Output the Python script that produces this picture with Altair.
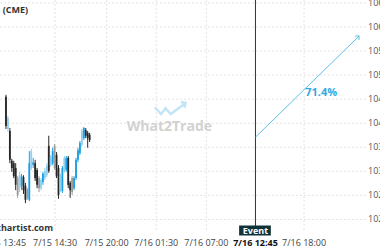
import altair as alt
import pandas as pd

# ---- candle data (15-min bars, index positions) ----
tone = ["down", "up_l", "down", "down", "down", "down", "down_l", "up_l", "up", "down",
        "down", "down_l", "up", "up_l", "up", "down", "down", "down_l", "up_l", "up",
        "up_l", "up_l", "down", "up_l", "up", "down_l", "down", "down", "up_l", "up",
        "up_l", "up", "down", "down", "down_l", "up", "up", "up", "up", "up_l",
        "up", "down", "down", "down"]
opens = [10455, 10388, 10384, 10322, 10317, 10307, 10286, 10265, 10270, 10288,
         10270, 10261, 10241, 10307, 10313, 10317, 10303, 10286, 10265, 10278,
         10286, 10292, 10353, 10313, 10317, 10353, 10334, 10307, 10261, 10259,
         10301, 10303, 10328, 10276, 10286, 10265, 10286, 10324, 10338, 10355,
         10369, 10386, 10380, 10376]
closes = [10394, 10411, 10324, 10307, 10290, 10272, 10251, 10292, 10290, 10261,
          10241, 10245, 10317, 10342, 10319, 10286, 10272, 10265, 10282, 10295,
          10301, 10311, 10301, 10330, 10342, 10307, 10290, 10251, 10290, 10307,
          10328, 10328, 10272, 10261, 10257, 10286, 10324, 10344, 10359, 10384,
          10390, 10374, 10369, 10365]
highs = [10459, 10415, 10390, 10326, 10322, 10317, 10290, 10299, 10295, 10292,
         10276, 10265, 10342, 10347, 10328, 10324, 10307, 10290, 10286, 10299,
         10307, 10317, 10374, 10334, 10349, 10357, 10340, 10313, 10295, 10311,
         10332, 10332, 10332, 10280, 10290, 10290, 10328, 10349, 10363, 10388,
         10392, 10390, 10384, 10380]
lows = [10388, 10382, 10317, 10299, 10286, 10261, 10245, 10257, 10261, 10253,
        10234, 10241, 10238, 10303, 10307, 10280, 10265, 10257, 10261, 10272,
        10282, 10288, 10297, 10309, 10313, 10303, 10286, 10243, 10257, 10255,
        10297, 10299, 10265, 10245, 10251, 10261, 10282, 10319, 10334, 10351,
        10365, 10369, 10349, 10361]
bar_idx = list(range(len(opens)))

# ---- axes ----
y_ticks = [10200, 10250, 10300, 10350, 10400, 10450, 10500, 10550, 10600, 10650]
x_tick_pos = [-1, 25.25, 51.75, 77.25, 103, 128.25, 153.25]
x_tick_labels = ["7/15 13:45", "7/15 14:30", "7/15 20:00", "7/16 01:30",
                 "7/16 07:00", "7/16 12:45", "7/16 18:00"]
x_tick_bold = [False, False, False, False, False, True, False]

# ---- event / projection ----
event_pos = 128.25
event_label = "Event"
arrow_x = [128.25, 181.5]
arrow_y = [10371, 10581]
arrow_text = "71.4%"
arrow_text_x = 162
arrow_text_y = 10463

# ---- watermark ----
logo_x = [76.5, 79.8, 82.0, 84.7, 92.3]
logo_y = [10433, 10419, 10431, 10419, 10442]
wm_text = "What2Trade"
wm_x = 84
wm_y = 10392

FONT = "Open Sans"
XS = alt.Scale(domain=[-0.5, 182.5], nice=False, zero=False)
YS = alt.Scale(domain=[10174, 10656], nice=False, zero=False)


def X(f):
    return alt.X(f, scale=XS, axis=None, title=None)


def Y(f):
    return alt.Y(f, scale=YS, axis=None, title=None)


candles = pd.DataFrame({"i": bar_idx, "tone": tone, "open": opens, "close": closes,
                        "high": highs, "low": lows})
color = alt.Color("tone:N", legend=None,
                  scale=alt.Scale(domain=["up", "down", "up_l", "down_l"],
                                  range=["#1a9fe3", "#262626", "#8fcff0", "#9a9a9a"]))

ydf = pd.DataFrame({"p": y_ticks})
hgrid = alt.Chart(ydf).mark_rule(
    color="#e4e4e4", strokeDash=[2, 2], strokeWidth=1
).encode(y=Y("p:Q"))
ylab = alt.Chart(ydf).mark_text(
    font=FONT, fontSize=9, color="#555", align="left", baseline="middle"
).encode(y=Y("p:Q"), x=alt.value(368), text=alt.Text("p:Q", format="d"))
vgrid = alt.Chart(pd.DataFrame({"x": x_tick_pos[1:]})).mark_rule(
    color="#e4e4e4", strokeDash=[2, 2], strokeWidth=1
).encode(x=X("x:Q"), y=alt.value(0), y2=alt.value(232))

base = alt.Chart(candles)
wicks = base.mark_rule(strokeWidth=1).encode(
    x=X("i:Q"), y=Y("low:Q"), y2="high:Q", color=color)
bodies = base.mark_bar(size=1.8).encode(
    x=X("i:Q"), y=Y("open:Q"), y2="close:Q", color=color)

logo_df = pd.DataFrame({"x": logo_x, "y": logo_y, "o": list(range(len(logo_x)))})
logo = alt.Chart(logo_df).mark_line(color="#c4e5f6", strokeWidth=2.5).encode(
    x=X("x:Q"), y=Y("y:Q"), order="o:Q")
logo_head = alt.Chart(logo_df.tail(1)).mark_point(
    shape="M-1,-1L0,0L-1,1", size=45, angle=327, filled=False,
    color="#c4e5f6", strokeWidth=2.5, opacity=1
).encode(x=X("x:Q"), y=Y("y:Q"))
wm = alt.Chart(pd.DataFrame({"x": [wm_x], "y": [wm_y], "t": [wm_text]})).mark_text(
    font=FONT, fontSize=14, fontWeight="bold", color="#d2d2d2"
).encode(x=X("x:Q"), y=Y("y:Q"), text="t:N")

ev_df = pd.DataFrame({"x": [event_pos], "t": [event_label]})
ev_line = alt.Chart(ev_df).mark_rule(color="#1e3b40", strokeWidth=1).encode(
    x=X("x:Q"), y=alt.value(0), y2=alt.value(226))
ev_box = alt.Chart(ev_df).transform_calculate(
    lo="datum.x - 8.4", hi="datum.x + 7.9"
).mark_rect(color="#0f3338").encode(
    x=X("lo:Q"), x2="hi:Q", y=alt.value(225.5), y2=alt.value(235.5))
ev_text = alt.Chart(ev_df).mark_text(
    font=FONT, fontSize=9, fontWeight="bold", color="white", baseline="middle"
).encode(x=X("x:Q"), y=alt.value(230.5), text="t:N")

arrow_df = pd.DataFrame({"x": arrow_x, "y": arrow_y, "o": [0, 1]})
arrow = alt.Chart(arrow_df).mark_line(color="#5cbfea", strokeWidth=1).encode(
    x=X("x:Q"), y=Y("y:Q"), order="o:Q")
arrow_head = alt.Chart(arrow_df.tail(1)).mark_point(
    shape="M-1,-1L0,0L-1,1", size=30, angle=316, filled=False,
    color="#5cbfea", strokeWidth=1, opacity=1
).encode(x=X("x:Q"), y=Y("y:Q"))
arrow_lbl = alt.Chart(pd.DataFrame({"x": [arrow_text_x], "y": [arrow_text_y],
                                    "t": [arrow_text]})).mark_text(
    font=FONT, fontSize=11, fontWeight="bold", color="#33a8e0"
).encode(x=X("x:Q"), y=Y("y:Q"), text="t:N")

xl_df = pd.DataFrame({"x": x_tick_pos, "t": x_tick_labels, "b": x_tick_bold})
xlab = alt.Chart(xl_df).transform_filter("!datum.b").mark_text(
    font=FONT, fontSize=9, baseline="middle", color="#444"
).encode(x=X("x:Q"), y=alt.value(242.5), text="t:N")
xlab_b = alt.Chart(xl_df).transform_filter("datum.b").mark_text(
    font=FONT, fontSize=9, baseline="middle", color="#111", fontWeight="bold"
).encode(x=X("x:Q"), y=alt.value(242.5), text="t:N")

title = alt.Chart(pd.DataFrame({"t": ["E-mini Nasdaq 100 Futures (CME)"]})).mark_text(
    font=FONT, fontSize=9, fontWeight="bold", color="#333", align="right",
    baseline="middle"
).encode(x=alt.value(28), y=alt.value(10), text="t:N")
site = alt.Chart(pd.DataFrame({"t": ["www.forex-chartist.com"]})).mark_text(
    font=FONT, fontSize=9, fontWeight="bold", color="#333", align="right",
    baseline="middle"
).encode(x=alt.value(53), y=alt.value(228), text="t:N")

chart = alt.layer(
    hgrid, vgrid, ylab, logo, logo_head, wm, wicks, bodies, ev_line, arrow, arrow_head,
    arrow_lbl, ev_box, ev_text, xlab, xlab_b, title, site
).properties(
    width=366, height=232,
    autosize=alt.AutoSizeParams(type="none"),
    padding={"left": 0, "top": 0, "right": 14, "bottom": 18},
).configure(background="white").configure_view(stroke=None)

chart.save("out.html", embed_options={"renderer": "svg", "actions": False})
